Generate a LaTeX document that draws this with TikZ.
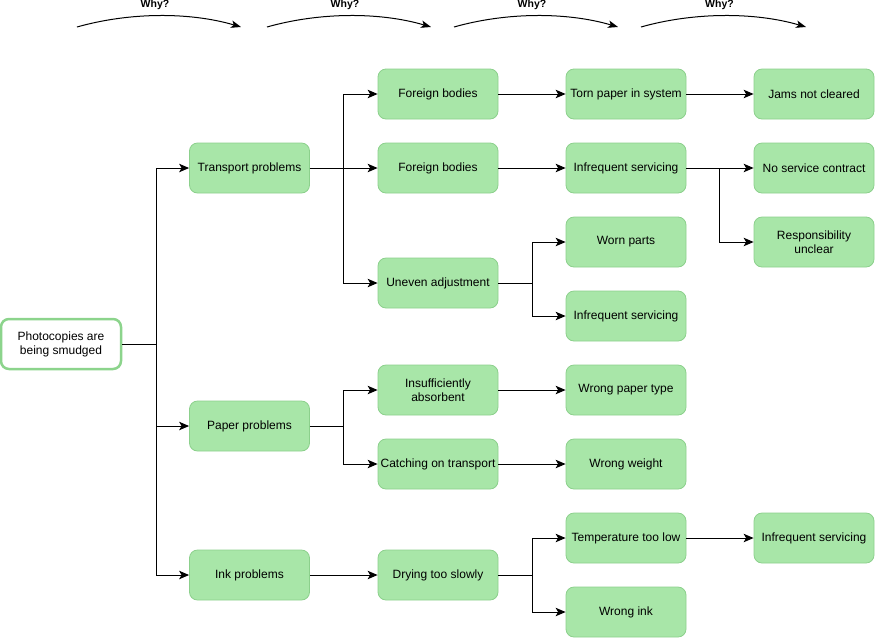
\documentclass[tikz,border=0pt]{standalone}
\usepackage{fontspec}
\setmainfont{Liberation Sans}
\usetikzlibrary{arrows.meta}
\definecolor{fillg}{RGB}{168,230,168}
\definecolor{bordg}{RGB}{140,208,140}
\definecolor{rootg}{RGB}{140,212,140}
\begin{document}
\begin{tikzpicture}[x=1pt,y=-1pt,
  box/.style={draw=bordg, fill=fillg, rounded corners=8pt, minimum width=120pt, minimum height=50pt, align=center, inner sep=2pt, font=\fontsize{12}{14}\selectfont, line width=0.8pt},
  rootbox/.style={box, fill=white, draw=rootg, line width=2.5pt},
  arr/.style={draw=black, line width=1pt, -{Stealth[length=10pt,width=8.5pt,inset=2.5pt]}},
  why/.style={font=\fontsize{10.5}{12}\selectfont\bfseries, inner sep=0pt},
  whyarr/.style={draw=black, line width=1pt, -{Stealth[length=10pt,width=7.5pt,inset=2.5pt]}}]
\useasboundingbox (0,0) rectangle (875,638);
% nodes
\node[rootbox] (root) at (61,344) {Photocopies are\\being smudged};
\node[box] (tp) at (249.5,168) {Transport problems};
\node[box] (pp) at (249.5,426) {Paper problems};
\node[box] (ip) at (249.5,575) {Ink problems};
\node[box] (fb1) at (438,94) {Foreign bodies};
\node[box] (fb2) at (438,168) {Foreign bodies};
\node[box] (ua) at (438,283) {Uneven adjustment};
\node[box] (ia) at (438,390) {Insufficiently\\absorbent};
\node[box] (ct) at (438,464) {Catching on transport};
\node[box] (ds) at (438,575) {Drying too slowly};
\node[box] (tps) at (626,94) {Torn paper in system};
\node[box] (is1) at (626,168) {Infrequent servicing};
\node[box] (wp) at (626,242) {Worn parts};
\node[box] (is2) at (626,316) {Infrequent servicing};
\node[box] (wpt) at (626,390) {Wrong paper type};
\node[box] (ww) at (626,464) {Wrong weight};
\node[box] (ttl) at (626,538) {Temperature too low};
\node[box] (wi) at (626,612) {Wrong ink};
\node[box] (jnc) at (814,94) {Jams not cleared};
\node[box] (nsc) at (814,168) {No service contract};
\node[box] (ru) at (814,242) {Responsibility\\unclear};
\node[box] (is3) at (814,538) {Infrequent servicing};
% connectors
\draw[arr] (root.east) -- ++(34,0) |- (tp.west);
\draw[arr] (root.east) -- ++(34,0) |- (pp.west);
\draw[arr] (root.east) -- ++(34,0) |- (ip.west);
\draw[arr] (tp.east) -- ++(34,0) |- (fb1.west);
\draw[arr] (tp.east) -- (fb2.west);
\draw[arr] (tp.east) -- ++(34,0) |- (ua.west);
\draw[arr] (pp.east) -- ++(34,0) |- (ia.west);
\draw[arr] (pp.east) -- ++(34,0) |- (ct.west);
\draw[arr] (ip.east) -- (ds.west);
\draw[arr] (fb1.east) -- (tps.west);
\draw[arr] (fb2.east) -- (is1.west);
\draw[arr] (ua.east) -- ++(34,0) |- (wp.west);
\draw[arr] (ua.east) -- ++(34,0) |- (is2.west);
\draw[arr] (ia.east) -- (wpt.west);
\draw[arr] (ct.east) -- (ww.west);
\draw[arr] (ds.east) -- ++(34,0) |- (ttl.west);
\draw[arr] (ds.east) -- ++(34,0) |- (wi.west);
\draw[arr] (tps.east) -- (jnc.west);
\draw[arr] (is1.east) -- (nsc.west);
\draw[arr] (is1.east) -- ++(33,0) |- (ru.west);
\draw[arr] (ttl.east) -- (is3.west);
% why arrows
\foreach \i/\a/\b in {1/77/241, 2/267/431, 3/454/618, 4/641/806}{
  \coordinate (ws\i) at (\a,27);
  \coordinate (we\i) at (\b,27);
  \draw[whyarr] (ws\i) .. controls ({\a+53},12) and ({\b-51},12) .. (we\i);
  \node[why] (wl\i) at ({(\a+\b)/2-4},5) {Why?};
}
\end{tikzpicture}
\end{document}
